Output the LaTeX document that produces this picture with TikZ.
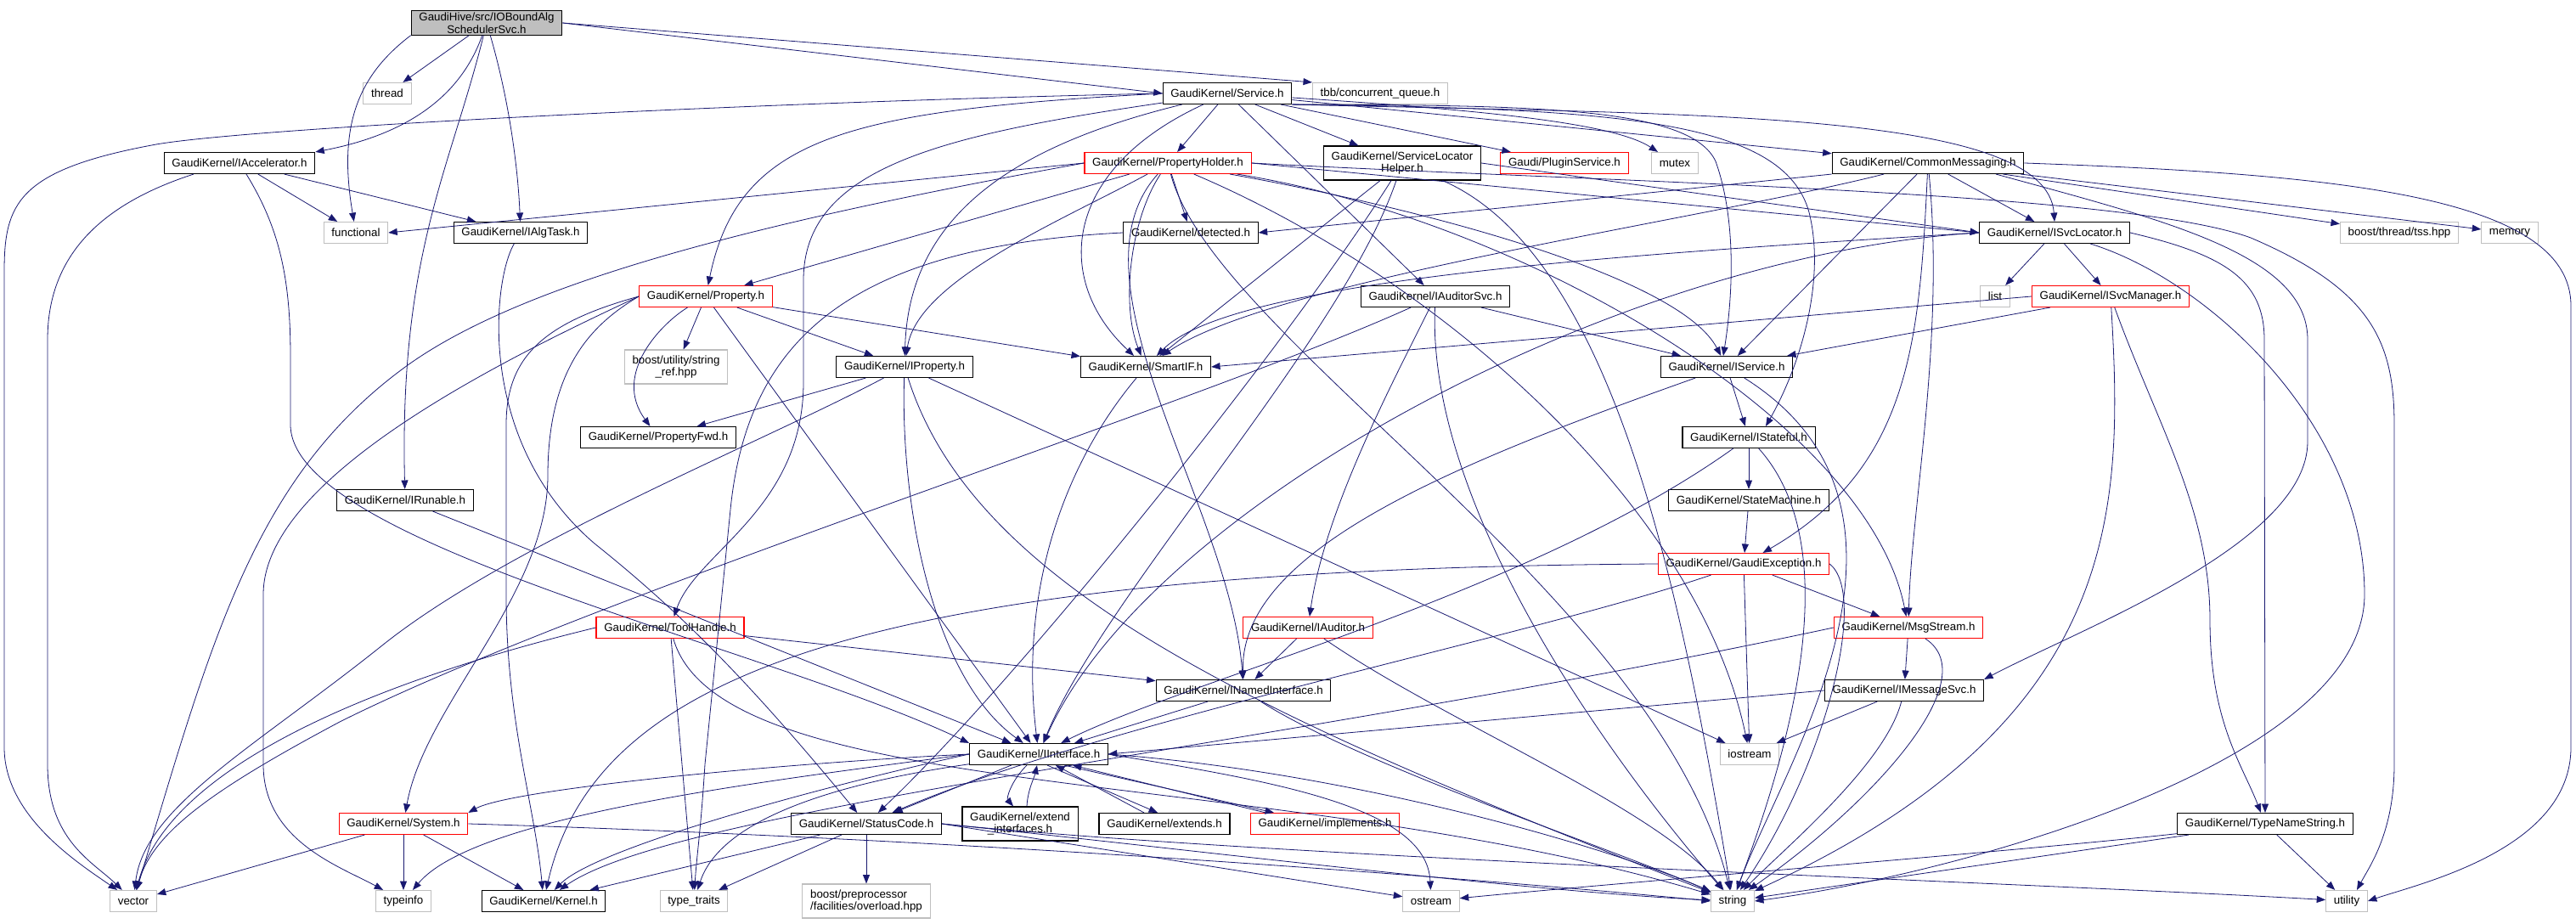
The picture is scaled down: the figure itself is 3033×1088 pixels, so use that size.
\documentclass[tikz,border=0pt]{standalone}
\usepackage{fontspec}
\setmainfont{Liberation Sans}
\usetikzlibrary{arrows.meta}
\definecolor{edgeblue}{HTML}{191970}
\definecolor{boxgray}{HTML}{BFBFBF}

\begin{document}
\begin{tikzpicture}[x=.25pt,y=-.25pt,line width=.2pt,
    every node/.style={font=\fontsize{3.33}{3.63}\selectfont},
    hdr/.style={draw=black,line width=.28pt,fill=white,minimum height=6.25pt,inner xsep=2.3pt,inner ysep=.5pt},
    lib/.style={hdr,draw=boxgray},
    trunc/.style={hdr,draw=red},
    dep/.style={draw=edgeblue,-{Triangle[length=2.6pt,width=2pt]}}]
  \useasboundingbox (0,0) rectangle (3033,1088);

  \path (573,27)   node[hdr,fill=boxgray,align=center] (root) {GaudiHive/src/IOBoundAlg\\SchedulerSvc.h};
  \path (456,110)  node[lib]   (thr)   {thread};
  \path (1445,110) node[hdr]   (svc)   {GaudiKernel/Service.h};
  \path (1625,110) node[lib]   (tbb)   {tbb/concurrent\_queue.h};
  \path (282,192)  node[hdr]   (acc)   {GaudiKernel/IAccelerator.h};
  \path (1375,192) node[trunc] (ph)    {GaudiKernel/PropertyHolder.h};
  \path (1651,192) node[hdr,align=center,minimum height=10pt] (slh) {GaudiKernel/ServiceLocator\\Helper.h};
  \path (1842,192) node[trunc] (plg)   {Gaudi/PluginService.h};
  \path (1972,192) node[lib]   (mtx)   {mutex};
  \path (2270,192) node[hdr]   (cm)    {GaudiKernel/CommonMessaging.h};
  \path (419,274)  node[lib]   (fnc)   {functional};
  \path (613,274)  node[hdr]   (algt)  {GaudiKernel/IAlgTask.h};
  \path (1402,274) node[hdr]   (det)   {GaudiKernel/detected.h};
  \path (2419,274) node[hdr]   (isl)   {GaudiKernel/ISvcLocator.h};
  \path (2825,274) node[lib]   (tss)   {boost/thread/tss.hpp};
  \path (2955,274) node[lib]   (mem)   {memory};
  \path (831,349)  node[trunc] (prop)  {GaudiKernel/Property.h};
  \path (1690,349) node[hdr]   (ias)   {GaudiKernel/IAuditorSvc.h};
  \path (2349,349) node[lib]   (lst)   {list};
  \path (2485,349) node[trunc] (ism)   {GaudiKernel/ISvcManager.h};
  \path (796,432)  node[lib,align=center,minimum height=10pt] (sref) {boost/utility/string\\\_ref.hpp};
  \path (1065,432) node[hdr]   (iprop) {GaudiKernel/IProperty.h};
  \path (1349,432) node[hdr]   (sif)   {GaudiKernel/SmartIF.h};
  \path (2033,432) node[hdr]   (isv)   {GaudiKernel/IService.h};
  \path (775,515)  node[hdr]   (pfwd)  {GaudiKernel/PropertyFwd.h};
  \path (2059,515) node[hdr]   (ist)   {GaudiKernel/IStateful.h};
  \path (477,589)  node[hdr]   (run)   {GaudiKernel/IRunable.h};
  \path (2059,589) node[hdr]   (stm)   {GaudiKernel/StateMachine.h};
  \path (2053,664) node[trunc] (gex)   {GaudiKernel/GaudiException.h};
  \path (789,739)  node[trunc] (th)    {GaudiKernel/ToolHandle.h};
  \path (1540,739) node[trunc] (iaud)  {GaudiKernel/IAuditor.h};
  \path (2247,739) node[trunc] (msg)   {GaudiKernel/MsgStream.h};
  \path (1464,813) node[hdr]   (inm)   {GaudiKernel/INamedInterface.h};
  \path (2242,813) node[hdr]   (imsg)  {GaudiKernel/IMessageSvc.h};
  \path (1223,888) node[hdr]   (ii)    {GaudiKernel/IInterface.h};
  \path (2060,888) node[lib]   (ios)   {iostream};
  \path (475,970)  node[trunc] (sys)   {GaudiKernel/System.h};
  \path (1020,970) node[hdr]   (sc)    {GaudiKernel/StatusCode.h};
  \path (1201,970) node[hdr,align=center,minimum height=10pt] (exi) {GaudiKernel/extend\\\_interfaces.h};
  \path (1371,970) node[hdr]   (ext)   {GaudiKernel/extends.h};
  \path (1560,970) node[trunc] (impl)  {GaudiKernel/implements.h};
  \path (2667,970) node[hdr]   (tns)   {GaudiKernel/TypeNameString.h};
  \path (157,1061) node[lib]   (vec)   {vector};
  \path (475,1061) node[lib]   (tinfo) {typeinfo};
  \path (640,1061) node[hdr]   (ker)   {GaudiKernel/Kernel.h};
  \path (817,1061) node[lib]   (ttr)   {type\_traits};
  \path (1020,1061) node[lib,align=left,minimum height=10pt] (ovl) {boost/preprocessor\\/facilities/overload.hpp};
  \path (1685,1061) node[lib]  (ost)   {ostream};
  \path (2040,1061) node[lib]  (str)   {string};
  \path (2763,1061) node[lib]  (utl)   {utility};

  % IOBoundAlgSchedulerSvc.h
  \draw[dep] (root) -- (thr);
  \draw[dep] (root.south west) .. controls (420,90) and (398,150) .. (fnc);
  \draw[dep] (root) .. controls (540,120) and (470,160) .. (acc.north east);
  \draw[dep] (root) .. controls (530,200) and (470,300) .. (run);
  \draw[dep] (root) .. controls (600,120) and (610,200) .. (algt);
  \draw[dep] (root.east) -- (svc.west);
  \draw[dep] (root.east) -- (tbb.north west);

  % IAccelerator.h
  \draw[dep] (acc) -- (fnc);
  \draw[dep] (acc) -- (algt);
  \draw[dep] ([xshift=-13.5pt]acc.south) .. controls (120,240) and (56,300) .. (56,400)
     -- (56,900) .. controls (56,990) and (110,1015) .. (vec);
  \draw[dep] ([xshift=2pt]acc.south) .. controls (330,270) and (342,330) .. (342,420)
     -- (342,500) .. controls (342,640) and (900,760) .. (ii.north west);
  \draw[dep] (algt) .. controls (580,330) and (560,520) .. (700,640)
     .. controls (800,720) and (880,800) .. (sc);
  \draw[dep] (run) -- (ii);

  % Service.h
  \draw[dep] (svc) -- (ph);
  \draw[dep] (svc) -- (slh);
  \draw[dep] (svc) -- (plg);
  \draw[dep] (svc) .. controls (1750,130) and (1900,145) .. (mtx);
  \draw[dep] (svc) -- (cm);
  \draw[dep] (svc.south east) .. controls (2000,135) and (2410,130) .. (isl.north);
  \draw[dep] (svc.west) .. controls (1000,130) and (870,160) .. (prop);
  \draw[dep] (svc) .. controls (1200,170) and (1070,250) .. (iprop);
  \draw[dep] (svc) .. controls (1250,200) and (1240,330) .. (sif);
  \draw[dep] (svc) -- (ias);
  \draw[dep] (svc.south east) .. controls (1800,124) and (1990,125) .. (2020,190)
     .. controls (2045,260) and (2040,350) .. ([xshift=-1pt]isv.north);
  \draw[dep] (svc.south east) .. controls (1900,128) and (2100,140) .. (2130,250)
     .. controls (2150,330) and (2120,430) .. ([xshift=5pt]ist.north);
  \draw[dep] (svc) .. controls (1100,160) and (946,200) .. (946,330)
     -- (946,450) .. controls (946,600) and (820,650) .. (th);
  \draw[dep] (svc.west) .. controls (900,120) and (300,150) .. (184,170)
     .. controls (20,200) and (5,240) .. (5,320) -- (5,880) .. controls (5,960) and (90,1015) .. (vec);

  % PropertyHolder.h
  \draw[dep] (ph.west) -- (fnc.east);
  \draw[dep] (ph.west) .. controls (900,260) and (620,330) .. (480,430)
     .. controls (300,560) and (250,750) .. (vec);
  \draw[dep] (ph) -- (prop);
  \draw[dep] (ph) .. controls (1250,260) and (1080,330) .. (iprop);
  \draw[dep] (ph) -- (det);
  \draw[dep] (ph) .. controls (1250,330) and (1450,600) .. (inm);
  \draw[dep] (ph) .. controls (1330,260) and (1320,360) .. (sif);
  \draw[dep] (ph.east) -- (isl.west);
  \draw[dep] (ph) .. controls (1700,250) and (1980,330) .. (isv);
  \draw[dep] (ph) .. controls (1800,260) and (2200,500) .. (msg);
  \draw[dep] (ph) .. controls (1430,400) and (1950,700) .. (str);
  \draw[dep] (ph) .. controls (1700,330) and (2000,600) .. (ios);
  \draw[dep] (ph.east) .. controls (1900,215) and (2500,225) .. (2650,280)
     .. controls (2790,340) and (2819,400) .. (2819,500) -- (2819,900)
     .. controls (2819,980) and (2790,1020) .. ([xshift=3pt]utl.north);

  % ServiceLocatorHelper.h
  \draw[dep] (slh.east) -- (isl.west);
  \draw[dep] (slh) -- (sif);
  \draw[dep] (slh) .. controls (1580,400) and (1300,700) .. (ii);
  \draw[dep] (slh) .. controls (1520,400) and (1200,800) .. (sc);
  \draw[dep] (slh) .. controls (1900,300) and (1980,700) .. (str);

  % CommonMessaging.h
  \draw[dep] (cm.south west) -- (det.east);
  \draw[dep] (cm) .. controls (2000,260) and (1500,330) .. (sif);
  \draw[dep] (cm) -- (isv);
  \draw[dep] (cm) -- (isl);
  \draw[dep] (cm) .. controls (2260,400) and (2250,550) .. (gex);
  \draw[dep] (cm) .. controls (2290,400) and (2250,600) .. (msg);
  \draw[dep] ([xshift=20pt]cm.south) .. controls (2550,260) and (2717,300) .. (2717,400)
     -- (2717,520) .. controls (2717,640) and (2450,740) .. (imsg.north east);
  \draw[dep] (cm) -- (tss);
  \draw[dep] (cm) -- (mem);
  \draw[dep] (cm.east) .. controls (2750,205) and (3027,230) .. (3027,360)
     -- (3027,880) .. controls (3027,1000) and (2850,1040) .. (utl.east);
  \draw[dep] (det.west) .. controls (1000,290) and (880,400) .. (860,600)
     -- (830,900) .. controls (825,980) and (820,1010) .. (ttr);

  % ISvcLocator.h, ISvcManager.h
  \draw[dep] (isl) -- (lst);
  \draw[dep] (isl) -- (ism);
  \draw[dep] (isl.west) .. controls (1900,300) and (1450,330) .. (sif);
  \draw[dep] (isl.west) .. controls (1900,300) and (1350,600) .. (ii);
  \draw[dep] (isl.east) .. controls (2620,300) and (2666,330) .. (2666,400)
     -- (tns);
  \draw[dep] (isl) .. controls (2600,330) and (2784,500) .. (2784,700)
     .. controls (2784,900) and (2300,1030) .. (str.east);
  \draw[dep] (ism.west) -- (sif.east);
  \draw[dep] (ism) -- (isv);
  \draw[dep] (ism) .. controls (2540,500) and (2602,600) .. (2602,730)
     .. controls (2602,850) and (2640,900) .. (tns);
  \draw[dep] (ism) .. controls (2500,600) and (2500,850) .. (str);

  % Property.h
  \draw[dep] (prop) -- (iprop);
  \draw[dep] (prop) -- (sif);
  \draw[dep] (prop) .. controls (780,380) and (720,440) .. (pfwd);
  \draw[dep] (prop) -- (sref);
  \draw[dep] (prop.west) .. controls (600,420) and (310,560) .. (310,700)
     -- (310,900) .. controls (310,990) and (400,1020) .. (tinfo);
  \draw[dep] (prop.west) .. controls (640,380) and (596,420) .. (596,500)
     -- (596,700) .. controls (596,850) and (630,950) .. (ker);
  \draw[dep] (prop.west) .. controls (700,380) and (645,430) .. (645,560)
     .. controls (645,700) and (500,830) .. (sys);
  \draw[dep] (prop) -- (ii);

  % IAuditorSvc.h
  \draw[dep] (ias) -- (isv);
  \draw[dep] (ias) .. controls (1640,450) and (1560,600) .. (iaud);
  \draw[dep] (ias) .. controls (1680,600) and (1900,900) .. (str);
  \draw[dep] (ias) .. controls (1400,480) and (700,700) .. (400,850)
     .. controls (250,930) and (180,980) .. (vec);

  % IProperty.h, SmartIF.h
  \draw[dep] (iprop) -- (pfwd);
  \draw[dep] (iprop) .. controls (1060,600) and (1100,800) .. (ii);
  \draw[dep] (iprop) .. controls (900,520) and (600,640) .. (450,760)
     .. controls (300,880) and (170,950) .. (vec);
  \draw[dep] (iprop) .. controls (1150,700) and (1500,850) .. (str);
  \draw[dep] (iprop) -- (ios);
  \draw[dep] (sif) .. controls (1250,550) and (1200,700) .. (ii);

  % IService.h, IStateful.h, StateMachine.h
  \draw[dep] (isv) -- (ist);
  \draw[dep] (isv) .. controls (1700,550) and (1460,650) .. (inm);
  \draw[dep] (isv) .. controls (2300,600) and (2100,900) .. (str);
  \draw[dep] (ist) -- (stm);
  \draw[dep] (ist) .. controls (1800,700) and (1400,800) .. (ii);
  \draw[dep] (ist) .. controls (2180,650) and (2100,900) .. (str);
  \draw[dep] (stm) -- (gex);

  % GaudiException.h
  \draw[dep] (gex) -- (msg);
  \draw[dep] (gex) -- (ios);
  \draw[dep] (gex.west) .. controls (1000,670) and (700,800) .. (ker);
  \draw[dep] (gex) .. controls (1800,750) and (1300,850) .. (sc);
  \draw[dep] (gex.east) .. controls (2200,700) and (2150,900) .. (str);

  % ToolHandle.h, IAuditor.h
  \draw[dep] (th) -- (inm);
  \draw[dep] (th) -- (ttr);
  \draw[dep] (th.west) .. controls (450,800) and (200,900) .. (vec);
  \draw[dep] (th) .. controls (850,950) and (1500,900) .. (str);
  \draw[dep] (iaud) -- (inm);
  \draw[dep] (iaud) .. controls (1700,850) and (1950,950) .. (str);

  % MsgStream.h, IMessageSvc.h, INamedInterface.h
  \draw[dep] (msg) -- (imsg);
  \draw[dep] (msg.west) .. controls (1500,880) and (800,950) .. (ker);
  \draw[dep] (msg) .. controls (2340,800) and (2200,950) .. (str);
  \draw[dep] (imsg.west) -- (ii.east);
  \draw[dep] (imsg) -- (ios);
  \draw[dep] (imsg) .. controls (2220,900) and (2100,1000) .. (str);
  \draw[dep] (inm) -- (ii);
  \draw[dep] (inm) .. controls (1600,900) and (1900,1000) .. (str);

  % IInterface.h
  \draw[dep] (ii.west) .. controls (900,900) and (600,930) .. (sys.north east);
  \draw[dep] (ii) -- (sc);
  \draw[dep] ([xshift=-3.5pt]ii.south) .. controls (1190,920) and (1185,940) .. ([xshift=-2pt]exi.north);
  \draw[dep] ([xshift=2pt]exi.north) .. controls (1210,930) and (1218,915) .. ([xshift=-.5pt]ii.south);
  \draw[dep] ([xshift=2.5pt]ii.south) -- ([xshift=-2pt]ext.north);
  \draw[dep] ([xshift=-6pt]ext.north) -- ([xshift=5pt]ii.south);
  \draw[dep] ([xshift=7.5pt]ii.south) -- ([xshift=-15pt]impl.north);
  \draw[dep] ([xshift=-17.5pt]impl.north) -- ([xshift=10pt]ii.south);
  \draw[dep] (ii.west) .. controls (900,920) and (560,960) .. (tinfo);
  \draw[dep] (ii.west) .. controls (950,930) and (700,1000) .. (ker);
  \draw[dep] (ii) .. controls (1000,920) and (850,960) .. (ttr);
  \draw[dep] (ii.east) .. controls (1500,920) and (1680,950) .. (ost);
  \draw[dep] (ii.east) .. controls (1600,910) and (1900,1000) .. (str);

  % System.h, StatusCode.h, TypeNameString.h
  \draw[dep] (sys) -- (vec);
  \draw[dep] (sys) -- (tinfo);
  \draw[dep] (sys) -- (ker);
  \draw[dep] (sys.east) .. controls (1200,990) and (1800,1040) .. (str.west);
  \draw[dep] (sc) -- (ker);
  \draw[dep] (sc) -- (ttr);
  \draw[dep] (sc) -- (ovl);
  \draw[dep] (sc.east) .. controls (1300,1000) and (1550,1040) .. (ost);
  \draw[dep] (sc.east) .. controls (1400,1000) and (1800,1050) .. (str);
  \draw[dep] (sc.east) .. controls (1500,1010) and (2400,1040) .. (utl);
  \draw[dep] (tns) -- (utl);
  \draw[dep] (tns) -- (str);
  \draw[dep] (tns) .. controls (2400,1000) and (1900,1040) .. (ost);
\end{tikzpicture}
\end{document}
